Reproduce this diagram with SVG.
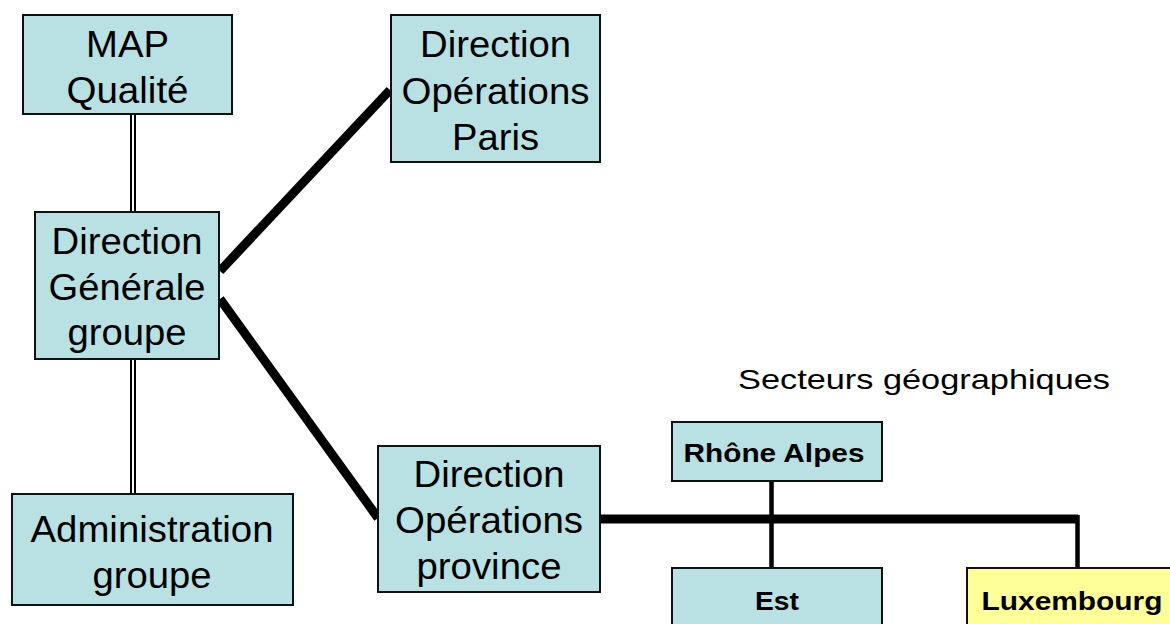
<svg xmlns="http://www.w3.org/2000/svg" width="1170" height="624" viewBox="0 0 1170 624">
<style>
.box{fill:#B9E0E3;stroke:#111;stroke-width:2}
.yel{fill:#FFFF99;stroke:#111;stroke-width:2}
.t{font-family:"Liberation Sans",Arial,sans-serif;font-size:36px;fill:#000;text-anchor:middle}
.b{font-family:"Liberation Sans",Arial,sans-serif;font-size:26px;font-weight:bold;fill:#000;text-anchor:middle}
.s{font-family:"Liberation Sans",Arial,sans-serif;font-size:28px;fill:#000}
.thick{stroke:#000;stroke-width:9;fill:none;stroke-linecap:butt}
.med{stroke:#000;stroke-width:4.5;fill:none}
.dblo{stroke:#000;stroke-width:6;fill:none}
.dbli{stroke:#fff;stroke-width:2;fill:none}
</style>
<rect width="1170" height="624" fill="#fff"/>
<g id="connectors">
<line class="dblo" x1="133" y1="114" x2="133" y2="212"/>
<line class="dbli" x1="133" y1="114" x2="133" y2="212"/>
<line class="dblo" x1="133" y1="359" x2="133" y2="494"/>
<line class="dbli" x1="133" y1="359" x2="133" y2="494"/>
<line class="thick" x1="220" y1="271" x2="390" y2="90"/>
<line class="thick" x1="220" y1="299" x2="378" y2="518"/>
<line class="med" x1="771.5" y1="481" x2="771.5" y2="568"/>
<line class="thick" x1="600" y1="519" x2="1078" y2="519"/>
<polyline class="med" points="1077.5,515 1077.5,568"/>
</g>
<g id="map-qualite">
<rect class="box" x="23" y="15" width="209" height="99"/>
<text class="t" x="127.5" y="57" textLength="83" lengthAdjust="spacingAndGlyphs">MAP</text>
<text class="t" x="127.5" y="103" textLength="122" lengthAdjust="spacingAndGlyphs">Qualité</text>
</g>
<g id="direction-generale">
<rect class="box" x="35" y="212" width="184" height="147"/>
<text class="t" x="127" y="254" textLength="151" lengthAdjust="spacingAndGlyphs">Direction</text>
<text class="t" x="127" y="300" textLength="157" lengthAdjust="spacingAndGlyphs">Générale</text>
<text class="t" x="127" y="345" textLength="119" lengthAdjust="spacingAndGlyphs">groupe</text>
</g>
<g id="administration">
<rect class="box" x="12" y="494" width="281" height="111"/>
<text class="t" x="152" y="542" textLength="243" lengthAdjust="spacingAndGlyphs">Administration</text>
<text class="t" x="152" y="588" textLength="119" lengthAdjust="spacingAndGlyphs">groupe</text>
</g>
<g id="direction-paris">
<rect class="box" x="391" y="15" width="209" height="147"/>
<text class="t" x="495.5" y="57" textLength="151" lengthAdjust="spacingAndGlyphs">Direction</text>
<text class="t" x="495.5" y="104" textLength="188" lengthAdjust="spacingAndGlyphs">Opérations</text>
<text class="t" x="495.5" y="150" textLength="87" lengthAdjust="spacingAndGlyphs">Paris</text>
</g>
<g id="direction-province">
<rect class="box" x="378" y="446" width="222" height="146"/>
<text class="t" x="489" y="487" textLength="151" lengthAdjust="spacingAndGlyphs">Direction</text>
<text class="t" x="489" y="533" textLength="188" lengthAdjust="spacingAndGlyphs">Opérations</text>
<text class="t" x="489" y="579" textLength="145" lengthAdjust="spacingAndGlyphs">province</text>
</g>
<g id="secteurs-label">
<text class="s" x="738" y="389" textLength="372" lengthAdjust="spacingAndGlyphs">Secteurs géographiques</text>
</g>
<g id="rhone-alpes">
<rect class="box" x="672" y="422" width="210" height="59"/>
<text class="b" x="774" y="462" textLength="181" lengthAdjust="spacingAndGlyphs">Rhône Alpes</text>
</g>
<g id="est">
<rect class="box" x="672" y="568" width="210" height="70"/>
<text class="b" x="777" y="610" textLength="44" lengthAdjust="spacingAndGlyphs">Est</text>
</g>
<g id="luxembourg">
<rect class="yel" x="967" y="568" width="215" height="70"/>
<text class="b" x="1072" y="610" textLength="181" lengthAdjust="spacingAndGlyphs">Luxembourg</text>
</g>
</svg>
